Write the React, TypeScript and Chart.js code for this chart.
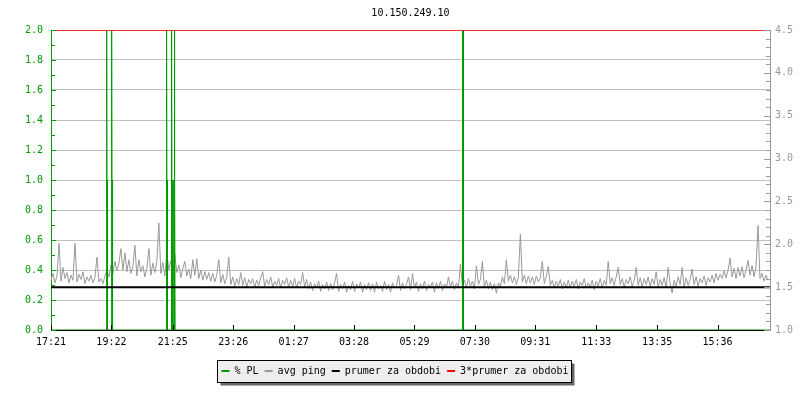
import React, { useEffect, useRef } from "react";
import { Chart, registerables } from "chart.js";

Chart.register(...registerables);

const TITLE = "10.150.249.10";
const SPAN_MINUTES = 1440;
const SAMPLE_STEP = 4;

const tickLabels = ["17:21", "19:22", "21:25", "23:26", "01:27", "03:28", "05:29", "07:30", "09:31", "11:33", "13:35", "15:36"];
const tickMinutes = [0, 121, 244, 365, 486, 607, 728, 849, 970, 1092, 1214, 1335];

const seriesNames = ["% PL", "avg ping", "prumer za obdobi", "3*prumer za obdobi"];

// avg ping (right axis), one sample every SAMPLE_STEP minutes
const avgPing = [
  1.58, 1.66, 1.55, 1.63, 2.01, 1.57, 1.73, 1.60, 1.67, 1.55, 1.64, 1.58, 2.01, 1.56, 1.65, 1.59, 1.68, 1.54, 1.62, 1.57,
  1.64, 1.55, 1.61, 1.85, 1.56, 1.60, 1.54, 1.63, 1.70, 1.62, 1.76, 1.66, 1.80, 1.69, 1.78, 1.95, 1.70, 1.90, 1.68, 1.82,
  1.66, 1.74, 1.99, 1.63, 1.82, 1.68, 1.75, 1.62, 1.72, 1.95, 1.64, 1.78, 1.67, 1.80, 2.25, 1.66, 1.79, 1.63, 1.90, 1.70,
  1.81, 1.62, 1.88, 1.67, 1.76, 1.61, 1.72, 1.80, 1.63, 1.71, 1.60, 1.82, 1.64, 1.83, 1.60, 1.70, 1.58, 1.68, 1.59, 1.67,
  1.57, 1.66, 1.56, 1.64, 1.82, 1.55, 1.65, 1.54, 1.62, 1.85, 1.53, 1.62, 1.51, 1.60, 1.53, 1.67, 1.52, 1.61, 1.50, 1.59,
  1.54, 1.60, 1.50, 1.58, 1.52, 1.61, 1.68, 1.51, 1.59, 1.53, 1.62, 1.50, 1.57, 1.52, 1.60, 1.49, 1.58, 1.53, 1.61, 1.50,
  1.58, 1.51, 1.60, 1.49, 1.57, 1.53, 1.67, 1.50, 1.59, 1.48, 1.56, 1.46, 1.54, 1.49, 1.57, 1.45, 1.53, 1.48, 1.56, 1.46,
  1.54, 1.47, 1.55, 1.66, 1.45, 1.53, 1.48, 1.56, 1.44, 1.52, 1.47, 1.57, 1.45, 1.54, 1.49, 1.56, 1.44, 1.53, 1.47, 1.55,
  1.46, 1.54, 1.44, 1.56, 1.48, 1.52, 1.45, 1.57, 1.47, 1.53, 1.44, 1.55, 1.49, 1.52, 1.64, 1.46, 1.55, 1.48, 1.53, 1.62,
  1.47, 1.66, 1.49, 1.56, 1.45, 1.54, 1.48, 1.57, 1.46, 1.53, 1.50, 1.56, 1.44, 1.55, 1.48, 1.57, 1.46, 1.54, 1.49, 1.62,
  1.50, 1.57, 1.47, 1.55, 1.49, 1.77, 1.52, 1.58, 1.49, 1.60, 1.51, 1.57, 1.48, 1.75, 1.53, 1.59, 1.80, 1.50, 1.58, 1.48,
  1.56, 1.47, 1.54, 1.43, 1.55, 1.50, 1.62, 1.54, 1.82, 1.57, 1.64, 1.55, 1.62, 1.53, 1.61, 2.12, 1.56, 1.64, 1.54, 1.63,
  1.55, 1.62, 1.53, 1.63, 1.56, 1.61, 1.80, 1.54, 1.63, 1.74, 1.52, 1.58, 1.49, 1.57, 1.51, 1.59, 1.48, 1.56, 1.50, 1.58,
  1.49, 1.57, 1.51, 1.59, 1.48, 1.56, 1.52, 1.60, 1.49, 1.55, 1.50, 1.58, 1.47, 1.57, 1.51, 1.60, 1.49, 1.58, 1.52, 1.80,
  1.54, 1.61, 1.52, 1.62, 1.73, 1.53, 1.60, 1.50, 1.59, 1.54, 1.62, 1.51, 1.58, 1.73, 1.52, 1.61, 1.50, 1.60, 1.53, 1.62,
  1.51, 1.60, 1.53, 1.68, 1.50, 1.59, 1.52, 1.61, 1.49, 1.73, 1.54, 1.43, 1.58, 1.51, 1.62, 1.53, 1.73, 1.50, 1.61, 1.52,
  1.59, 1.71, 1.53, 1.62, 1.51, 1.60, 1.55, 1.63, 1.52, 1.61, 1.56, 1.64, 1.55, 1.66, 1.58, 1.65, 1.60, 1.69, 1.61, 1.70,
  1.84, 1.62, 1.72, 1.60, 1.73, 1.63, 1.74, 1.61, 1.70, 1.81, 1.64, 1.75, 1.62, 1.74, 2.22, 1.60, 1.66, 1.57, 1.64, 1.58,
];

// % PL (left axis): minute -> value
const plMinutes = [
  0,
  110.5, 111, 111.5, 112, 112.5, 113, 113.5,
  120.5, 121, 121.5, 122, 122.5, 123, 123.5,
  230.5, 231, 231.5, 232, 232.5, 233, 233.5,
  240.5, 241, 241.5, 242, 242.5, 243, 243.5,
  245.5, 246, 246.5, 247, 247.5, 248, 248.5,
  824, 824.5, 825, 825.5, 826,
  1440,
];
const plValues = [
  0,
  0, 1, 0, 2, 0, 1, 0,
  0, 1, 0, 2, 0, 1, 0,
  0, 1, 0, 2, 0, 1, 0,
  0, 1, 0, 2, 0, 1, 0,
  0, 1, 0, 2, 0, 1, 0,
  0, 2, 0, 2, 0,
  0,
];

const periodMean = [1.5, 1.5];
const periodMeanTriple = [4.5, 4.5];
const lineEnds = [0, SPAN_MINUTES];

const GREEN = "#009900";
const GRAY = "#999999";
const FONT = { family: "'DejaVu Sans Mono', monospace", size: 10, weight: "normal" as const };

const decorPlugin = {
  id: "decor",
  afterLayout(chart: any) {
    // legend sits slightly left of the canvas centre in the reference
    if (chart.legend) chart.legend.right = chart.legend.right - 10;
  },
  beforeDraw(chart: any) {
    const lg = chart.legend;
    if (!lg || !lg.legendHitBoxes || !lg.legendHitBoxes.length) return;
    const hb = lg.legendHitBoxes;
    const ctx = chart.ctx;
    const minX = Math.min(...hb.map((h: any) => h.left));
    const maxX = Math.max(...hb.map((h: any) => h.left + h.width));
    const minY = Math.min(...hb.map((h: any) => h.top));
    const maxY = Math.max(...hb.map((h: any) => h.top + h.height));
    const cy = (minY + maxY) / 2;
    const l = Math.round(minX - 5) + 0.5;
    const r = Math.round(maxX + 3) + 0.5;
    const t = Math.round(cy - 11) + 0.5;
    const b = Math.round(cy + 11) + 0.5;
    ctx.save();
    ctx.fillStyle = "#666666";
    ctx.fillRect(l + 3, t + 3, r - l, b - t);
    ctx.fillStyle = "#eeeeee";
    ctx.fillRect(l, t, r - l, b - t);
    ctx.strokeStyle = "#000000";
    ctx.lineWidth = 1;
    ctx.strokeRect(l, t, r - l, b - t);
    ctx.restore();
  },
  afterDraw(chart: any) {
    const ctx = chart.ctx;
    const { x, yPL, yPing } = chart.scales;
    const area = chart.chartArea;
    ctx.save();
    ctx.lineWidth = 1;
    // x axis ticks (inward)
    ctx.strokeStyle = "#000000";
    ctx.beginPath();
    for (const m of tickMinutes) {
      const px = Math.round(x.getPixelForValue(m)) + 0.5;
      ctx.moveTo(px, area.bottom);
      ctx.lineTo(px, area.bottom - 5);
    }
    ctx.stroke();
    // left axis ticks
    ctx.strokeStyle = GREEN;
    ctx.beginPath();
    for (let k = 0; k <= 20; k++) {
      const py = Math.round(yPL.getPixelForValue(k / 10)) + 0.5;
      const len = k % 2 === 0 ? 5 : 4;
      ctx.moveTo(area.left, py);
      ctx.lineTo(area.left + len, py);
    }
    ctx.stroke();
    // right axis ticks
    ctx.strokeStyle = GRAY;
    ctx.beginPath();
    for (let k = 10; k <= 45; k++) {
      const py = Math.round(yPing.getPixelForValue(k / 10)) + 0.5;
      const len = k % 5 === 0 ? 6 : 4;
      ctx.moveTo(area.right, py);
      ctx.lineTo(area.right - len, py);
    }
    ctx.stroke();
    ctx.restore();
  },
};

export default function App() {
  const ref = useRef<HTMLCanvasElement | null>(null);

  useEffect(() => {
    if (!ref.current) return;
    const chart = new Chart(ref.current, {
      type: "line",
      data: {
        datasets: [
          {
            label: seriesNames[0],
            data: plMinutes.map((m, i) => ({ x: m, y: plValues[i] })),
            yAxisID: "yPL",
            borderColor: GREEN,
            backgroundColor: GREEN,
            borderWidth: 1,
            pointRadius: 0,
            order: 3,
          },
          {
            label: seriesNames[1],
            data: avgPing.map((v, i) => ({ x: i * SAMPLE_STEP, y: v })),
            yAxisID: "yPing",
            borderColor: GRAY,
            backgroundColor: GRAY,
            borderWidth: 1,
            pointRadius: 0,
            order: 4,
          },
          {
            label: seriesNames[2],
            data: lineEnds.map((m, i) => ({ x: m, y: periodMean[i] })),
            yAxisID: "yPing",
            borderColor: "#000000",
            backgroundColor: "#000000",
            borderWidth: 2,
            pointRadius: 0,
            order: 2,
          },
          {
            label: seriesNames[3],
            data: lineEnds.map((m, i) => ({ x: m, y: periodMeanTriple[i] })),
            yAxisID: "yPing",
            borderColor: "#ff0000",
            backgroundColor: "#ff0000",
            borderWidth: 1.5,
            pointRadius: 0,
            order: 1,
          },
        ],
      },
      options: {
        responsive: false,
        animation: false,
        events: [],
        layout: { padding: { right: 0, bottom: 14 } },
        scales: {
          x: {
            type: "linear",
            min: 0,
            max: SPAN_MINUTES,
            z: 1,
            afterBuildTicks: (s: any) => {
              s.ticks = tickMinutes.map((v) => ({ value: v }));
            },
            afterFit: (s: any) => {
              s.height = 30;
            },
            ticks: {
              autoSkip: false,
              maxRotation: 0,
              color: "#000000",
              font: FONT,
              padding: 6,
              callback: (v: any) => {
                const i = tickMinutes.indexOf(Number(v));
                return i >= 0 ? tickLabels[i] : "";
              },
            },
            grid: { display: true, drawOnChartArea: false, drawTicks: false },
            border: { color: "#000000", width: 1 },
          },
          yPL: {
            type: "linear",
            position: "left",
            min: 0,
            max: 2,
            afterFit: (s: any) => {
              s.width = 51;
            },
            ticks: {
              stepSize: 0.2,
              color: GREEN,
              font: FONT,
              padding: 8,
              callback: (v: any) => Number(v).toFixed(1),
            },
            grid: { color: "#c0c0c0", lineWidth: 1, drawTicks: false },
            border: { color: GREEN, width: 1 },
          },
          yPing: {
            type: "linear",
            position: "right",
            min: 1,
            max: 4.5,
            afterFit: (s: any) => {
              s.width = 30;
            },
            ticks: {
              stepSize: 0.5,
              color: GRAY,
              font: FONT,
              padding: 5,
              callback: (v: any) => Number(v).toFixed(1),
            },
            grid: { display: true, drawOnChartArea: false, drawTicks: false },
            border: { color: GRAY, width: 1 },
          },
        },
        plugins: {
          tooltip: { enabled: false },
          title: {
            display: true,
            text: TITLE,
            fullSize: false,
            color: "#000000",
            font: FONT,
            padding: { top: 7, bottom: 11 },
          },
          legend: {
            position: "bottom",
            labels: {
              font: FONT,
              color: "#000000",
              boxWidth: 8,
              boxHeight: 2,
              padding: 6,
              generateLabels: (c: any) =>
                c.data.datasets.map((ds: any, i: number) => ({
                  text: ds.label,
                  fillStyle: ds.borderColor,
                  strokeStyle: ds.borderColor,
                  lineWidth: 0,
                  hidden: false,
                  datasetIndex: i,
                  fontColor: "#000000",
                })),
            },
          },
        },
      },
      plugins: [decorPlugin],
    });
    return () => chart.destroy();
  }, []);

  return (
    <div style={{ position: "absolute", left: 0, top: 0, width: 800, height: 400, background: "#ffffff" }}>
      <canvas ref={ref} width={800} height={400} />
    </div>
  );
}
